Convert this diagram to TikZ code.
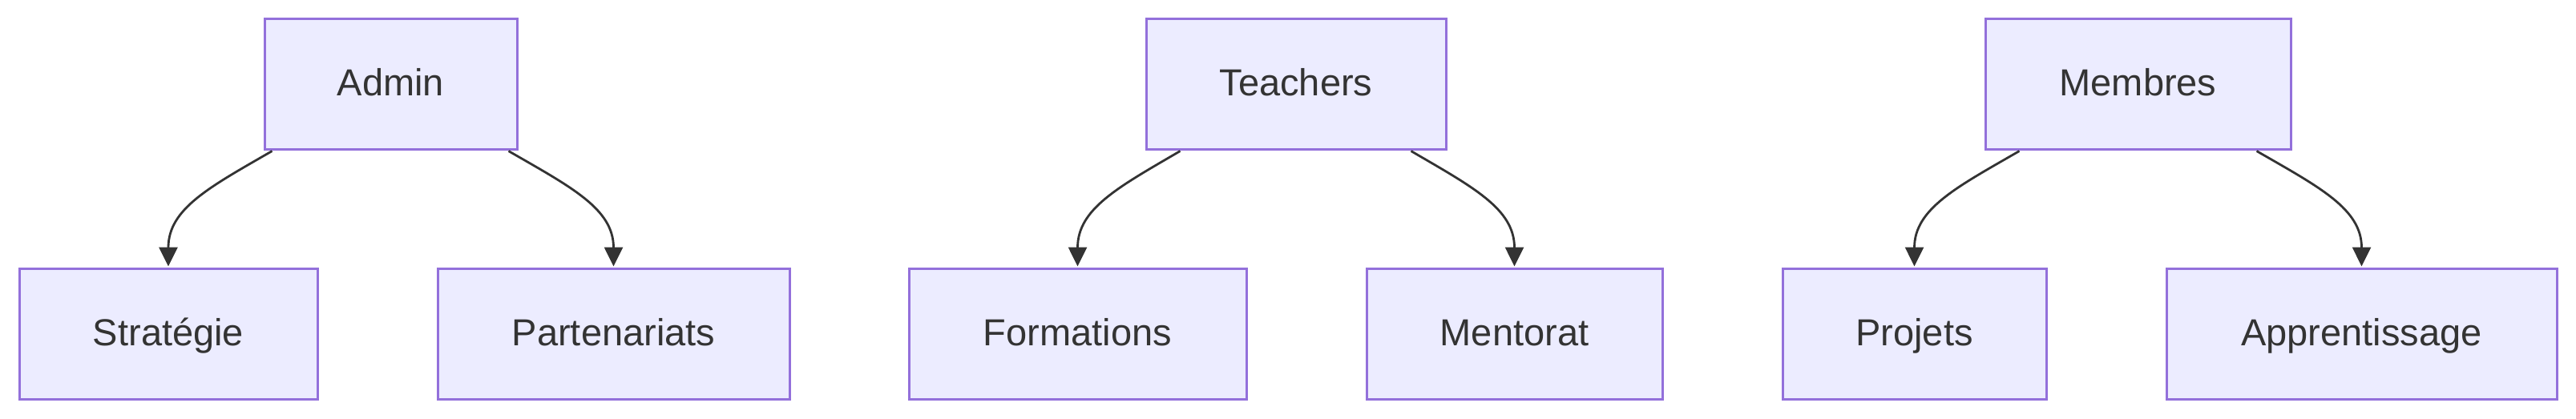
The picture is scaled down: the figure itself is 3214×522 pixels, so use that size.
\documentclass[tikz,border=0pt]{standalone}
\usepackage{fontspec}
\setmainfont{Liberation Sans}
\usetikzlibrary{arrows.meta}
\definecolor{boxfill}{HTML}{ECECFF}
\definecolor{boxline}{HTML}{9370DB}
\definecolor{ink}{HTML}{333333}
\tikzset{
  box/.style={draw=boxline, fill=boxfill, line width=3pt, rectangle, inner sep=0pt,
    minimum height=163pt, text height=40pt, text depth=10pt, text=ink,
    font=\fontsize{47}{56}\selectfont},
  link/.style={draw=ink, line width=2.8pt, -{Triangle[length=24pt,width=23pt]}}
}
\begin{document}
\begin{tikzpicture}[x=1pt,y=1pt]
\useasboundingbox (0,0) rectangle (3214,-522);
% top boxes
\node[box, minimum width=315pt] (admin) at (487.5,-104.5) {Admin};
\node[box, minimum width=374pt] (teach) at (1617,-104.5) {Teachers};
\node[box, minimum width=381pt] (memb) at (2667.5,-104.5) {Membres};
% bottom boxes
\node[box, minimum width=372pt] (strat) at (210,-416.5) {Stratégie};
\node[box, minimum width=439pt] (part) at (765.5,-416.5) {Partenariats};
\node[box, minimum width=421pt] (form) at (1344.5,-416.5) {Formations};
\node[box, minimum width=369pt] (ment) at (1889.5,-416.5) {Mentorat};
\node[box, minimum width=329pt] (proj) at (2388.5,-416.5) {Projets};
\node[box, minimum width=487pt] (appr) at (2946.5,-416.5) {Apprentissage};
% connectors
\draw[link] ([xshift=11pt,yshift=-1pt]admin.south west) .. controls +(-78,-45) and +(0,72) .. ([yshift=1pt]strat.north);
\draw[link] ([xshift=-12pt,yshift=-1pt]admin.south east) .. controls +(78,-45) and +(0,72) .. ([yshift=1pt]part.north);
\draw[link] ([xshift=44pt,yshift=-1pt]teach.south west) .. controls +(-77,-45) and +(0,72) .. ([yshift=1pt]form.north);
\draw[link] ([xshift=-45pt,yshift=-1pt]teach.south east) .. controls +(77,-45) and +(0,72) .. ([yshift=1pt]ment.north);
\draw[link] ([xshift=44pt,yshift=-1pt]memb.south west) .. controls +(-78,-45) and +(0,72) .. ([yshift=1pt]proj.north);
\draw[link] ([xshift=-44pt,yshift=-1pt]memb.south east) .. controls +(78,-45) and +(0,72) .. ([yshift=1pt]appr.north);
\end{tikzpicture}
\end{document}
